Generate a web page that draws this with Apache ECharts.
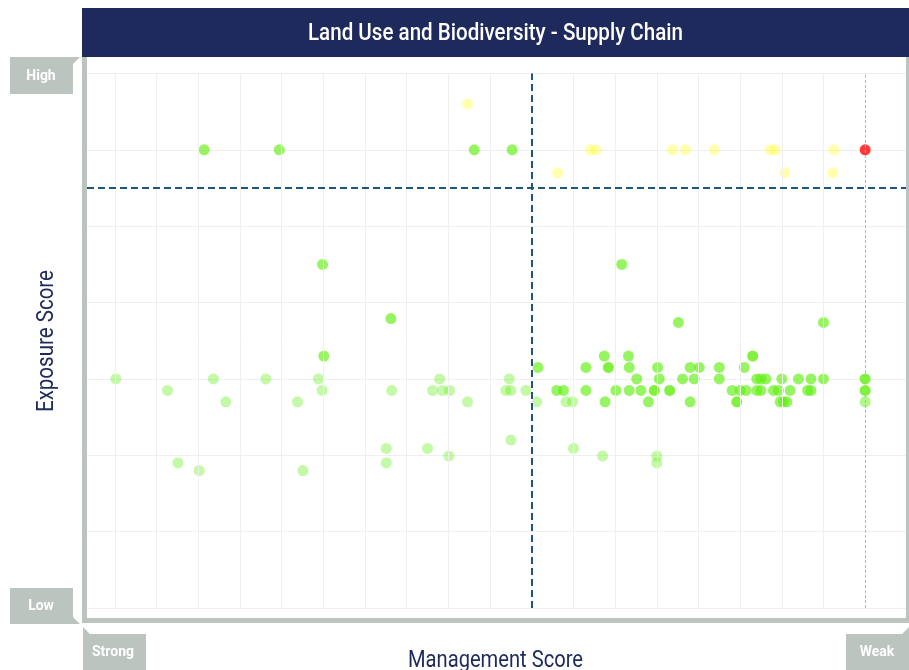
<!DOCTYPE html>
<html>
<head>
<meta charset="utf-8">
<script src="https://cdn.jsdelivr.net/npm/echarts@6/dist/echarts.min.js"></script>
<style>html,body{margin:0;padding:0;background:#fff}#c{width:909px;height:670px}</style>
</head>
<body>
<div id="c"></div>
<script>
// ---- Text ----
const titleText = 'Land Use and Biodiversity - Supply Chain';
const xAxisName = 'Management Score';
const yAxisName = 'Exposure Score';
const labelHigh = 'High';
const labelLow = 'Low';
const labelStrong = 'Strong';
const labelWeak = 'Weak';

// ---- Axes / reference lines ----
const xGridValues = [0,1,2,3,4,5,6,7,8,9,10,11,12,13,14,15,16,17];
const xWeakValue = 18;
const xThreshold = 10;
const yThreshold = 5.5;

// ---- Data: [management score, exposure score] ----
const yellowPoints = [[8.46,6.6],[10.62,5.7],[11.4,6],[11.54,6],[13.38,6],[13.69,6],[14.38,6],[15.72,6],[15.84,6],[16.07,5.7],[17.25,6],[17.22,5.7]];
const redPoints = [[18,6]];
const greenPoints = [[2.14,6],[3.94,6],[8.62,6],[9.53,6],[4.98,4.5],[12.16,4.5],[6.62,3.79],[13.52,3.74],[17.0,3.74],[5.01,3.3],
  [10.15,3.15],[10.6,2.85],[10.76,2.85],[11.3,3.15],[11.3,2.85],[11.74,3.3],[11.76,2.7],[12.02,2.85],[12.32,3.3],[12.34,3.15],
  [12.34,2.85],[12.52,3.0],[12.62,2.85],[12.8,2.7],[13.02,3.15],[13.06,3.0],[13.62,3.0],[13.8,3.15],[14.02,3.15],[13.9,3.0],
  [13.8,2.7],[14.5,3.15],[14.5,3.0],[14.81,2.85],[15.0,2.85],[15.14,2.85],[15.1,3.15],[15.4,3.0],[15.5,3.0],[15.62,3.0],
  [15.4,2.85],[15.5,2.85],[15.8,2.85],[15.92,2.85],[16.0,3.0],[16.2,2.85],[15.96,2.7],[16.04,2.7],[16.12,2.7],[16.4,3.0],
  [16.62,2.85],[16.7,2.85],[16.7,3.0],[17.0,3.0]];
const darkGreenPoints = [[11.84,3.15],[12.94,2.85],[13.31,2.85],[14.92,2.7],[15.3,3.3],[18,3.0],[18,2.85]];
const midGreenPoints = [[18,2.7]];
const lightGreenPoints = [[0.02,3.0],[1.26,2.85],[2.36,3.0],[2.66,2.7],[3.62,3.0],[4.38,2.7],[4.88,3.0],[4.97,2.85],[1.51,1.9],
  [2.02,1.8],[4.51,1.8],[6.64,2.85],[6.51,2.09],[6.51,1.9],[7.5,2.09],[8.01,1.99],[7.79,3.0],[7.62,2.85],[7.86,2.85],[8.03,2.85],
  [8.46,2.7],[9.46,3.0],[9.38,2.85],[9.5,2.85],[9.86,2.85],[9.5,2.2],[10.12,2.7],[10.82,2.7],[10.98,2.7],[11.0,2.09],[11.7,1.99],
  [13.0,1.99],[13.0,1.9]];

// ---- Styles ----
const FONT = "Roboto, 'Noto Sans', sans-serif";
const NAVY = '#1f2a5c';
const FRAME = '#bcc4c0';
const DASH_BLUE = '#1d5878';

// condensed look: measure text and squeeze horizontally to the target width
const mctx = document.createElement('canvas').getContext('2d');
function fit(text, font, target) {
  mctx.font = font;
  return target / mctx.measureText(text).width;
}

const chart = echarts.init(document.getElementById('c'), null, {renderer: 'canvas'});

function scatter(name, data, color, z) {
  return {
    type: 'scatter', name: name, data: data, symbolSize: 11, z: z,
    itemStyle: {color: color}, emphasis: {disabled: true}, animation: false
  };
}

function txt(text, x, y, font, fill, target, rotation) {
  return {type: 'text', x: x, y: y, z: 20, rotation: rotation || 0,
    scaleX: fit(text, font, target), scaleY: 1,
    style: {text: text, fill: fill, font: font,
      align: 'center', verticalAlign: 'middle', textAlign: 'center', textVerticalAlign: 'middle'}};
}

const labelFont = "bold 15px " + FONT;
const labelScale = fit(labelStrong, labelFont, 42);
function label(text, x, y) {
  return {type: 'text', x: x, y: y, z: 20, scaleX: labelScale, scaleY: 1,
    style: {text: text, fill: '#ffffff', font: labelFont,
      align: 'center', verticalAlign: 'middle', textAlign: 'center', textVerticalAlign: 'middle'}};
}

const option = {
  backgroundColor: '#ffffff',
  animation: false,
  grid: {left: 87, right: 3, top: 73.5, bottom: 62, containLabel: false, outerBoundsMode: 'none'},
  xAxis: {
    type: 'value', min: -0.672, max: 18.98,
    axisLine: {show: false}, axisTick: {show: false}, axisLabel: {show: false}, splitLine: {show: false}
  },
  yAxis: {
    type: 'value', min: 0, max: 7, interval: 1,
    axisLine: {show: false}, axisTick: {show: false}, axisLabel: {show: false},
    splitLine: {show: true, lineStyle: {color: '#efefef', width: 1}}
  },
  series: [
    {
      type: 'scatter', name: 'reference', data: [], z: 1, silent: true, animation: false,
      markLine: {
        silent: true, symbol: 'none', animation: false,
        label: {show: false},
        lineStyle: {color: '#efefef', width: 1, type: 'solid'},
        data: xGridValues.map(v => ({xAxis: v})).concat([
          {xAxis: xWeakValue, lineStyle: {color: '#b8b8b8', width: 1, type: [3, 2]}},
          {xAxis: xThreshold, lineStyle: {color: DASH_BLUE, width: 2, type: [7, 4]}},
          {yAxis: yThreshold, lineStyle: {color: DASH_BLUE, width: 2, type: [7, 4]}}
        ])
      }
    },
    scatter('light', lightGreenPoints, 'rgba(92,239,11,0.45)', 3),
    scatter('mid', midGreenPoints, 'rgba(92,239,11,0.6)', 3),
    scatter('green', greenPoints, 'rgba(92,239,11,0.8)', 3),
    scatter('dark', darkGreenPoints, 'rgba(88,236,0,0.95)', 3),
    scatter('yellow', yellowPoints, 'rgba(255,255,0,0.4)', 3),
    scatter('red', redPoints, 'rgba(255,0,0,0.97)', 3)
  ],
  graphic: [
    {type: 'rect', shape: {x: 82, y: 8, width: 827, height: 49}, style: {fill: NAVY}, z: 10},
    txt(titleText, 495.5, 34, "500 23px " + FONT, '#ffffff', 375, 0),
    txt(xAxisName, 495.5, 661, "23px " + FONT, NAVY, 175, 0),
    txt(yAxisName, 47, 341, "23px " + FONT, NAVY, 142, Math.PI / 2),
    // frame
    {type: 'rect', shape: {x: 82, y: 57, width: 5, height: 566}, style: {fill: FRAME}, z: 10},
    {type: 'rect', shape: {x: 82, y: 618, width: 827, height: 5}, style: {fill: FRAME}, z: 10},
    {type: 'rect', shape: {x: 906, y: 57, width: 3, height: 566}, style: {fill: FRAME}, z: 10},
    // corner label boxes
    {type: 'polygon', shape: {points: [[10,57],[80,57],[73,64],[73,94],[10,94]]}, style: {fill: FRAME}, z: 10},
    {type: 'polygon', shape: {points: [[10,588],[73,588],[73,617],[80,624],[10,624]]}, style: {fill: FRAME}, z: 10},
    {type: 'polygon', shape: {points: [[83,627],[90,634],[146,634],[146,670],[83,670]]}, style: {fill: FRAME}, z: 10},
    {type: 'polygon', shape: {points: [[846,634],[902,634],[909,627],[909,670],[846,670]]}, style: {fill: FRAME}, z: 10},
    label(labelHigh, 41, 76.5),
    label(labelLow, 41, 606.5),
    label(labelStrong, 113, 652.5),
    label(labelWeak, 877, 652.5)
  ]
};
chart.setOption(option);
</script>
</body>
</html>
